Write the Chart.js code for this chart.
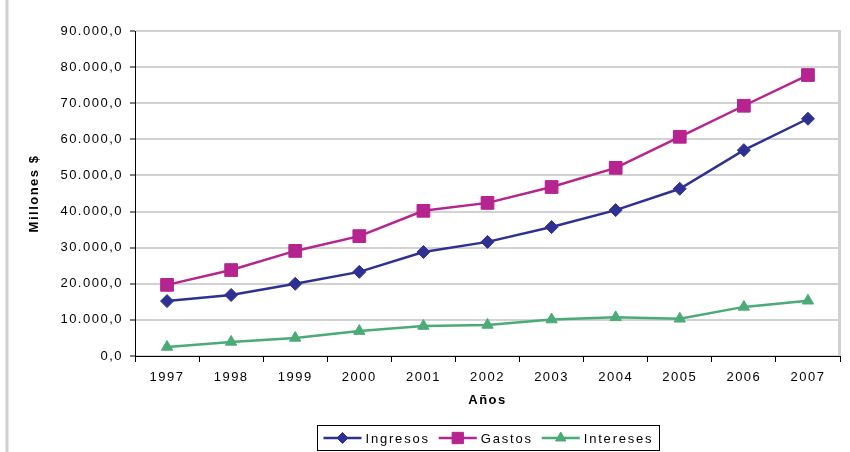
<!DOCTYPE html>
<html>
<head>
<meta charset="utf-8">
<script src="https://cdn.jsdelivr.net/npm/chart.js@4/dist/chart.umd.min.js"></script>
<style>
  html, body { margin: 0; padding: 0; background: #ffffff; }
  #wrap { width: 850px; height: 452px; }
</style>
</head>
<body>
<div id="wrap"><canvas id="c" width="850" height="452"></canvas></div>
<script>
// Años
const years = ['1997', '1998', '1999', '2000', '2001', '2002', '2003', '2004', '2005', '2006', '2007'];
// Millones $
const ingresos  = [15200, 16900, 20000, 23300, 28800, 31600, 35700, 40400, 46300, 57000, 65700];
const gastos    = [19700, 23800, 29100, 33200, 40200, 42400, 46800, 52100, 60700, 69300, 77800];
const intereses = [2500, 3900, 5000, 6900, 8300, 8600, 10100, 10700, 10300, 13600, 15300];

const seriesNames = ['Ingresos', 'Gastos', 'Intereses'];
const yMax = 90000;
const yStep = 10000;

// "90.000,0" style: dot for thousands, comma for decimals
function formatNumber(v) {
  const fixed = Number(v).toFixed(1);
  const [intPart, dec] = fixed.split('.');
  const grouped = intPart.replace(/\B(?=(\d{3})+(?!\d))/g, '.');
  return grouped + ',' + dec;
}

const FONT = "'Liberation Sans', Arial, sans-serif";
const SPACING = '1.5px';

// wide letter spacing for every text drawn on the canvas
const spacingPlugin = {
  id: 'spacing',
  beforeUpdate(chart) { chart.ctx.letterSpacing = SPACING; },
  beforeDraw(chart) { chart.ctx.letterSpacing = SPACING; }
};

// outer frame line on the left and right border of the plot area
const framePlugin = {
  id: 'frame',
  beforeDraw(chart) {
    const { ctx } = chart;
    ctx.save();
    ctx.fillStyle = '#ffffff';
    ctx.fillRect(0, 0, chart.width, chart.height);
    ctx.strokeStyle = '#d0d0d0';
    ctx.lineWidth = 3;
    ctx.beginPath();
    ctx.moveTo(7, 0);
    ctx.lineTo(7, chart.height);
    ctx.stroke();
    ctx.restore();
  },
  afterDraw(chart) {
    const { ctx, chartArea } = chart;
    ctx.save();
    ctx.strokeStyle = '#d0d0d0';
    ctx.lineWidth = 3;
    ctx.beginPath();
    ctx.moveTo(chartArea.right - 0.5, chartArea.top - 1);
    ctx.lineTo(chartArea.right - 0.5, chartArea.bottom);
    ctx.stroke();
    ctx.restore();
  }
};

// boxed legend with line + marker samples, centred under the axis title
const boxLegendPlugin = {
  id: 'boxLegend',
  afterDraw(chart) {
    const { ctx } = chart;
    ctx.save();
    ctx.letterSpacing = '1.8px';
    ctx.font = '13px ' + FONT;
    ctx.textBaseline = 'middle';
    ctx.textAlign = 'left';
    const lineLen = 38, gapAfterLine = 4, gapBetween = 9, padX = 6;
    const items = chart.data.datasets.map(ds => ({ ds, w: ctx.measureText(ds.label).width }));
    let total = padX * 2;
    items.forEach((it, i) => { total += lineLen + gapAfterLine + it.w + (i < items.length - 1 ? gapBetween : 0); });
    const boxTop = 425, boxH = 25;
    const cx = 488;
    const left = Math.round(cx - total / 2) + 0.5;
    ctx.strokeStyle = '#000000';
    ctx.lineWidth = 1;
    ctx.strokeRect(left, boxTop + 0.5, Math.round(total), boxH);
    const cy = boxTop + boxH / 2 + 0.5;
    let x = left + padX;
    items.forEach((it) => {
      const ds = it.ds;
      ctx.strokeStyle = ds.borderColor;
      ctx.lineWidth = 2.5;
      ctx.beginPath();
      ctx.moveTo(x, cy);
      ctx.lineTo(x + lineLen, cy);
      ctx.stroke();
      ctx.fillStyle = ds.pointBackgroundColor;
      ctx.strokeStyle = ds.pointBorderColor;
      ctx.lineWidth = 1;
      Chart.helpers.drawPoint(ctx, {
        pointStyle: ds.pointStyle,
        radius: ds.legendRadius,
        rotation: 0,
        borderWidth: 1
      }, x + lineLen / 2, cy);
      x += lineLen + gapAfterLine;
      ctx.fillStyle = '#000000';
      ctx.fillText(ds.label, x, cy + 1);
      x += it.w + gapBetween;
    });
    ctx.restore();
  }
};

const navy = '#2e3192';
const magenta = '#b5248f';
const green = '#4bab77';

new Chart(document.getElementById('c'), {
  type: 'line',
  data: {
    labels: years,
    datasets: [
      {
        label: seriesNames[0], data: ingresos,
        borderColor: navy, backgroundColor: navy,
        pointBackgroundColor: navy, pointBorderColor: navy,
        pointStyle: 'rectRot', pointRadius: 6.5, legendRadius: 5.5,
        borderWidth: 2.5, pointBorderWidth: 1, tension: 0
      },
      {
        label: seriesNames[1], data: gastos,
        borderColor: magenta, backgroundColor: magenta,
        pointBackgroundColor: magenta, pointBorderColor: magenta,
        pointStyle: 'rect', pointRadius: 9, legendRadius: 8,
        borderWidth: 2.5, pointBorderWidth: 1, tension: 0
      },
      {
        label: seriesNames[2], data: intereses,
        borderColor: green, backgroundColor: green,
        pointBackgroundColor: green, pointBorderColor: green,
        pointStyle: 'triangle', pointRadius: 6.5, legendRadius: 6,
        borderWidth: 2.5, pointBorderWidth: 1, tension: 0
      }
    ]
  },
  options: {
    responsive: false,
    animation: false,
    events: [],
    layout: { padding: { left: 20, right: 8, top: 31, bottom: 36 } },
    plugins: {
      legend: { display: false },
      tooltip: { enabled: false }
    },
    scales: {
      x: {
        offset: true,
        grid: {
          offset: true,
          drawOnChartArea: false,
          drawTicks: true,
          tickLength: 6,
          tickColor: '#000000',
          tickWidth: 1
        },
        border: { color: '#000000', width: 1 },
        ticks: {
          color: '#000000',
          padding: 8,
          maxRotation: 0,
          font: { family: FONT, size: 13 }
        },
        title: {
          display: true,
          text: 'Años',
          color: '#000000',
          font: { family: FONT, size: 13, weight: 'bold' },
          padding: { top: 0, bottom: 8 }
        },
        afterFit(scale) { scale.height = 60; }
      },
      y: {
        min: 0,
        max: yMax,
        grid: {
          color: '#d2d2d2',
          lineWidth: 2,
          drawTicks: true,
          tickLength: 5,
          tickColor: '#000000',
          tickWidth: 1
        },
        border: { color: '#000000', width: 1 },
        ticks: {
          stepSize: yStep,
          color: '#000000',
          padding: 7,
          font: { family: FONT, size: 13 },
          callback: v => formatNumber(v)
        },
        title: {
          display: true,
          text: 'Millones $',
          color: '#000000',
          font: { family: FONT, size: 13, weight: 'bold' },
          padding: { top: 7, bottom: 0 }
        },
        afterFit(scale) { scale.width = 115; }
      }
    }
  },
  plugins: [spacingPlugin, framePlugin, boxLegendPlugin]
});
</script>
</body>
</html>
